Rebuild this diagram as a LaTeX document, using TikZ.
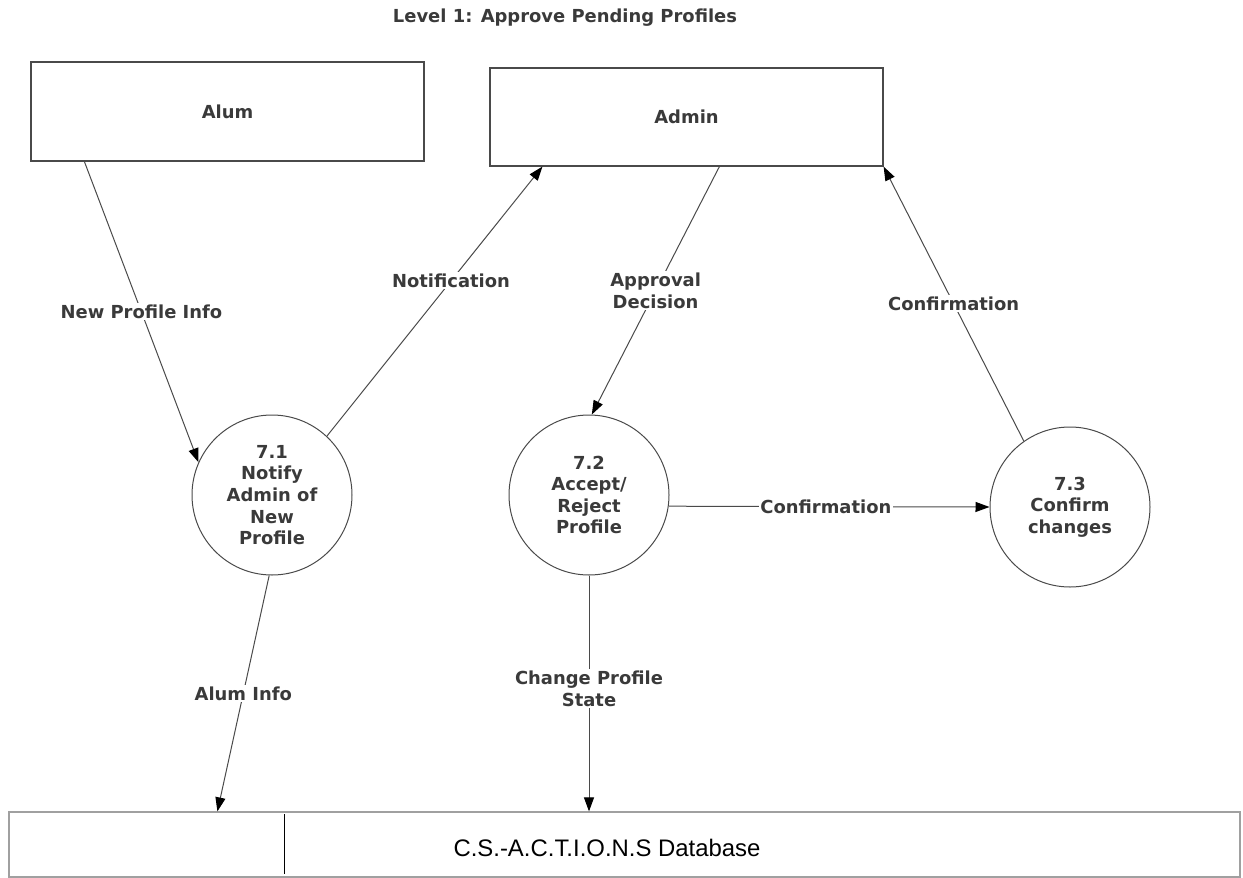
\documentclass[tikz,border=0pt]{standalone}
\usepackage{fontspec}
\setmainfont{DejaVu Sans}
\newfontfamily\arialfont{Liberation Sans}
\usetikzlibrary{arrows.meta}
\definecolor{ink}{HTML}{3A3A3A}
\definecolor{linec}{HTML}{4A4A4A}
\definecolor{dbline}{HTML}{A0A0A0}
\begin{document}
\begin{tikzpicture}[x=1bp,y=-1bp,
  txt/.style={font=\fontsize{18}{21.7}\selectfont\bfseries, text=ink, align=center},
  entity/.style={draw=linec, line width=1.2bp, fill=white, inner sep=0pt, txt},
  proc/.style={circle, draw=linec, line width=1bp, minimum size=160bp, inner sep=0pt, txt},
  flow/.style={draw=linec, line width=1bp, -{Triangle[length=14bp,width=10bp,color=black]}},
  lbl/.style={txt, fill=white, inner sep=1.5bp}]
\useasboundingbox (0,0) rectangle (1243,878);
\node[txt] (title) at (565,18) {Level 1: Approve Pending Profiles};
\node[entity, minimum width=393bp, minimum height=99bp] (alum) at (227.5,111.5) {Alum};
\node[entity, minimum width=393bp, minimum height=98bp] (admin) at (686.5,117) {Admin};
\node[proc] (c71) at (272,495) {7.1\\Notify\\Admin of\\New\\Profile};
\node[proc] (c72) at (589,495) {7.2\\Accept/\\Reject\\Profile};
\node[proc] (c73) at (1070,507) {7.3\\Confirm\\changes};
\node[draw=dbline, line width=1.2bp, minimum width=1231bp, minimum height=65bp, inner sep=0pt] (db) at (624.5,844.5) {};
\node[font=\arialfont\fontsize{24}{28}\selectfont, text=black] (dbtxt) at (607,848) {C.S.-A.C.T.I.O.N.S Database};
\draw[black, line width=1.5bp] ([xshift=276bp,yshift=-3bp]db.north west) -- ([xshift=276bp,yshift=4bp]db.south west);
\draw[flow] ([xshift=54bp]alum.south west) -- (c71.156) node[lbl, pos=0.5] {New Profile Info};
\draw[flow] (c71.47) -- ([xshift=53bp]admin.south west) node[lbl, pos=0.576] {Notification};
\draw[flow] ([xshift=230bp]admin.south west) -- (c72.88) node[lbl, pos=0.5] {Approval\\Decision};
\draw[flow] (c73.125) -- (admin.south east) node[lbl, pos=0.5] {Confirmation};
\draw[flow] (c72.-8.6) -- (c73.west) node[lbl, pos=0.49] {Confirmation};
\draw[flow] (c71.-92) -- ([xshift=209bp]db.north west) node[lbl, pos=0.5] {Alum Info};
\draw[flow] (c72.south) -- (c72.south |- db.north) node[lbl, pos=0.48] {Change Profile\\State};
\end{tikzpicture}
\end{document}
